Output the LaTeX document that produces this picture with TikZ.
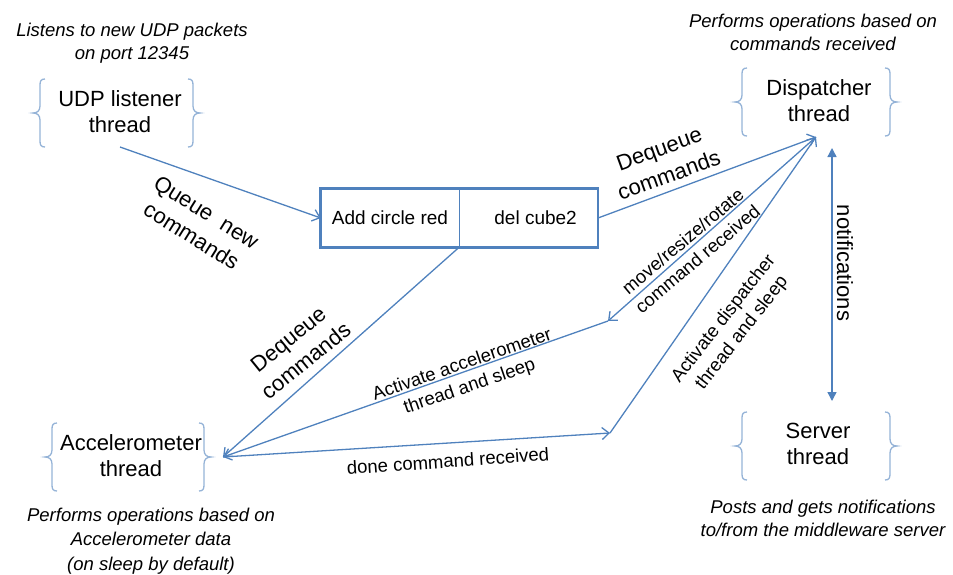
\documentclass[tikz,border=0pt]{standalone}
\usepackage{fontspec}
\setmainfont{Liberation Sans}
\usetikzlibrary{arrows.meta}
\definecolor{lnblue}{HTML}{4F81BD}
\definecolor{brblue}{HTML}{95B3D7}
\begin{document}
\begin{tikzpicture}[x=1pt,y=-1pt,
  conn/.style={draw=lnblue, line width=1.3pt, -{Straight Barb[length=7pt,width=12pt]}},
  brc/.style={draw=brblue, line width=1.3pt},
  thr/.style={font=\fontsize{22}{26}\selectfont, align=center, inner sep=0pt},
  note/.style={font=\fontsize{18.5}{23}\selectfont\itshape, align=center, inner sep=0pt},
  biglab/.style={font=\fontsize{22}{28}\selectfont, align=center, inner sep=0pt},
  smlab/.style={font=\fontsize{18.5}{23}\selectfont, align=center, inner sep=0pt},
  qcell/.style={font=\fontsize{19}{23}\selectfont, minimum height=58pt, inner ysep=0pt},
  lbrace/.pic={\draw[brc] (5,-34) .. controls (1,-34) and (0,-32) .. (0,-28) -- (0,-7) .. controls (0,-2) and (-3,0) .. (-7,0) .. controls (-3,0) and (0,2) .. (0,7) -- (0,28) .. controls (0,32) and (1,34) .. (5,34);}
]
\useasboundingbox (0,0) rectangle (953,574);

% notes
\node[note] (n1) at (132,43) {Listens to new UDP packets\\on port 12345};
\node[note] (n2) at (813,32) {Performs operations based on\\commands received};
\node[note] (n3) at (823,518) {Posts and gets notifications\\to/from the middleware server};
\node[note, font=\fontsize{18.5}{24.5}\selectfont\itshape] (n4) at (151,541) {Performs operations based on\\Accelerometer data\\(on sleep by default)};

% thread nodes
\node[thr] (udp) at (120,112) {UDP listener\\thread};
\node[thr] (disp) at (819,101) {Dispatcher\\thread};
\node[thr] (serv) at (818,444) {Server\\thread};
\node[thr] (acc) at (131,456) {Accelerometer\\thread};

% braces
\pic at (40,113) {lbrace};
\pic[xscale=-1] at (193,113) {lbrace};
\pic at (742,102) {lbrace};
\pic[xscale=-1] at (890,102) {lbrace};
\pic at (742,446) {lbrace};
\pic[xscale=-1] at (890,446) {lbrace};
\pic at (52,457) {lbrace};
\pic[xscale=-1] at (204,457) {lbrace};

% queue box
\node[qcell, minimum width=138pt] (q1) at (390,218) {Add circle red};
\node[qcell, anchor=east, inner xsep=21pt] (q2) at (598,218) {del cube2};
\draw[draw=lnblue, line width=2.8pt] (q1.north west) rectangle (q2.south east);
\draw[draw=lnblue, line width=1.4pt] (q1.north east) -- (q1.south east);

% connector points
\coordinate (udpout) at (120,147);
\coordinate (dispin) at (816,137);
\coordinate (accin) at (223,457);
\coordinate (m1) at (608,321);
\coordinate (m2) at (610,433);
\coordinate (ntop) at (832,148);
\coordinate (nbot) at (832,401);

% connectors
\draw[conn] (udpout) -- (q1.west);
\draw[conn] (q2.east) -- (dispin);
\draw[conn] (q1.south east) -- (accin);
\draw[conn] (dispin) -- (m1);
\draw[conn] (m1) -- (accin);
\draw[conn] (accin) -- (m2);
\draw[conn] (m2) -- (dispin);
\draw[draw=lnblue, line width=1.4pt, {Triangle[length=9pt,width=9pt]}-{Triangle[length=9pt,width=9pt]}] (ntop) -- (nbot);

% labels
\node[biglab, rotate=-32] (lq) at (199,224) {Queue~~new\\commands};
\node[biglab, rotate=20] (ld1) at (664,162) {Dequeue\\commands};
\node[biglab, rotate=39] (ld2) at (297,350) {Dequeue\\commands};
\node[biglab, rotate=-90] (lnot) at (845,263) {notifications};
\node[smlab, rotate=40] (lmv) at (690,250) {move/resize/rotate\\command received};
\node[smlab, rotate=52] (lad) at (733,326) {Activate dispatcher\\thread and sleep};
\node[smlab, rotate=19] (laa) at (466,376) {Activate accelerometer\\thread and sleep};
\node[smlab, rotate=4] (ldn) at (448,461) {done command received};
\end{tikzpicture}
\end{document}
